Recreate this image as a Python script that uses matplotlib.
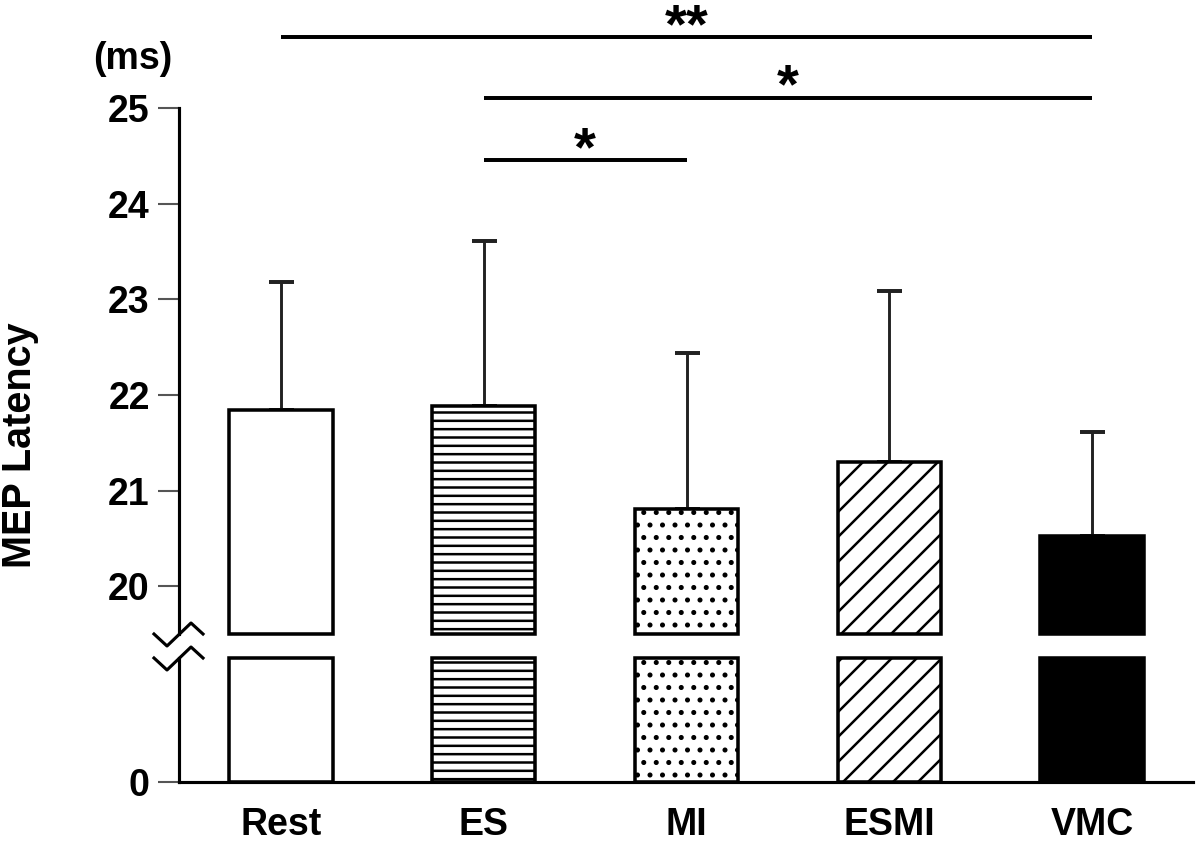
import matplotlib
matplotlib.use("Agg")
import matplotlib.pyplot as plt
import matplotlib.transforms as mtransforms
import numpy as np

# values (ms)
groups = ["Rest", "ES", "MI", "ESMI", "VMC"]
means = [21.84, 21.88, 20.81, 21.30, 20.53]
sds = [1.34, 1.73, 1.63, 1.79, 1.08]
hatches = ["", "---", "..", "//", ""]
fills = ["white", "white", "white", "white", "black"]
yticks_top = [20, 21, 22, 23, 24, 25]
# significance brackets: (from group, to group, label, height)
comparisons = [(0, 4, "**", 25.74), (1, 4, "*", 25.11), (1, 2, "*", 24.46)]

BREAK = 19.5
W, H, DPI = 1200, 842, 150

plt.rcParams["font.family"] = ["Liberation Sans", "DejaVu Sans"]
plt.rcParams["font.weight"] = "bold"
plt.rcParams["hatch.linewidth"] = 1.2
plt.rcParams["hatch.color"] = "black"

fig = plt.figure(figsize=(W / DPI, H / DPI), dpi=DPI)


def px_box(l, t, r, b):
    return [l / W, 1 - b / H, (r - l) / W, (b - t) / H]


ax_top = fig.add_axes(px_box(179, 0, 1193, 634))
ax_bot = fig.add_axes(px_box(179, 658, 1193, 782))

x = np.arange(len(groups))
width = 0.51
means = np.array(means)
sds = np.array(sds)

# top panel
bars = ax_top.bar(x, means - BREAK, width, bottom=BREAK, color=fills,
                  edgecolor="black", linewidth=1.7, zorder=2, clip_on=False)
for b, h in zip(bars, hatches):
    b.set_hatch(h)
ax_top.errorbar(x, means, yerr=[np.zeros_like(sds), sds], fmt="none",
                ecolor="#222222", elinewidth=1.4, capsize=6, capthick=1.9,
                zorder=1)

# bottom panel
bars_b = ax_bot.bar(x, np.minimum(means, BREAK), width, color=fills,
                    edgecolor="black", linewidth=1.7, zorder=2, clip_on=False)
for b, h in zip(bars_b, hatches):
    b.set_hatch(h)

xlim = (-0.503, 4.498)
for ax in (ax_top, ax_bot):
    ax.set_xlim(*xlim)
    ax.spines["top"].set_visible(False)
    ax.spines["right"].set_visible(False)
    ax.spines["left"].set_linewidth(1.5)
    ax.tick_params(axis="y", direction="out", length=10, width=1,
                   color="#555555", pad=4, labelsize=18)
    ax.patch.set_visible(False)

ax_top.set_ylim(BREAK, 26.13)
ax_top.spines["left"].set_bounds(BREAK, 25)
ax_top.spines["bottom"].set_visible(False)
ax_top.set_yticks(yticks_top)
ax_top.set_xticks([])

ax_bot.set_ylim(0, BREAK)
ax_bot.set_yticks([0])
ax_bot.spines["bottom"].set_linewidth(1.5)
ax_bot.set_xticks(x, groups)
ax_bot.tick_params(axis="x", length=0, pad=12, labelsize=18)

# significance brackets
for i, j, lab, yl in comparisons:
    ax_top.plot([x[i], x[j]], [yl, yl], color="black", lw=1.9,
                solid_capstyle="butt", clip_on=False)
    ax_top.text((x[i] + x[j]) / 2, yl - 0.18, lab, ha="center", va="bottom",
                fontsize=27, fontweight="bold")

# axis break marks
zig_x = np.array([-25, -12, 12, 24]) / DPI
zig_y = np.array([0, -12, 11, 0]) / DPI
for ax, corner in ((ax_top, (0, 0)), (ax_bot, (0, 1))):
    tr = fig.dpi_scale_trans + mtransforms.ScaledTranslation(corner[0], corner[1], ax.transAxes)
    fig.add_artist(plt.Line2D(zig_x, zig_y, transform=tr, color="black", lw=1.5))

fig.text(20 / W, 1 - 445 / H, "MEP Latency", rotation=90, ha="center",
         va="center", fontsize=19, fontweight="bold")
fig.text(133 / W, 1 - 59 / H, "(ms)", ha="center", va="center",
         fontsize=18, fontweight="bold")

fig.savefig("out.png", dpi=DPI)
